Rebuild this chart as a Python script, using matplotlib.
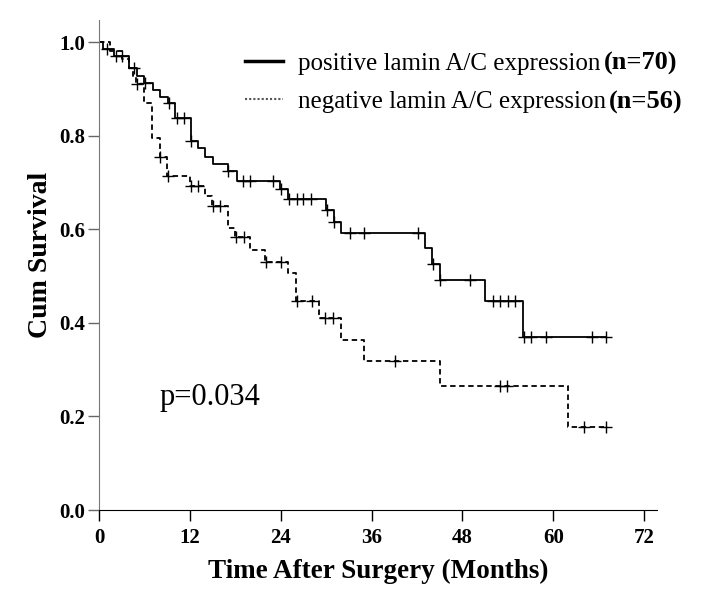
import numpy as np
import matplotlib
matplotlib.use("Agg")
import matplotlib.pyplot as plt
from matplotlib.lines import Line2D

plt.rcParams['font.family'] = ['Liberation Serif', 'DejaVu Serif']

# Kaplan-Meier steps (months, cumulative survival)
pos_time = [0, 0.5, 2.0, 4.0, 5.0, 6.0, 7.1, 8.1, 9.1, 10.0, 12.1, 13.1, 14.0, 15.1,
            17.0, 18.2, 23.9, 24.9, 30.0, 31.0, 32.0, 43.1, 44.0, 45.0, 51.0, 56.0]
pos_surv = [1.0, 0.986, 0.971, 0.945, 0.929, 0.913, 0.898, 0.884, 0.870, 0.838, 0.790,
            0.774, 0.756, 0.740, 0.724, 0.704, 0.686, 0.665, 0.642, 0.617, 0.592, 0.560,
            0.526, 0.492, 0.447, 0.371]
pos_end = 67.0
pos_censor = [1.0, 2.2, 3.0, 4.6, 6.1, 9.2, 10.3, 11.2, 12.2, 17.1, 19.0, 19.9, 23.0,
              24.0, 25.1, 26.1, 27.0, 28.0, 30.1, 31.1, 33.1, 35.0, 42.1, 44.1, 45.1,
              49.0, 52.0, 53.0, 54.0, 55.0, 56.1, 57.0, 59.0, 65.1, 67.0]

neg_time = [0, 1.5, 3.0, 4.0, 4.5, 4.9, 6.0, 7.0, 8.0, 9.0, 12.0, 14.0, 14.9, 17.1,
            18.0, 19.9, 21.9, 25.0, 26.0, 29.0, 32.0, 35.0, 45.0, 62.0]
neg_surv = [1.0, 0.982, 0.964, 0.946, 0.929, 0.911, 0.871, 0.795, 0.754, 0.714, 0.693,
            0.672, 0.650, 0.604, 0.583, 0.556, 0.531, 0.506, 0.448, 0.410, 0.364, 0.319,
            0.265, 0.177]
neg_end = 67.0
neg_censor = [5.0, 8.0, 9.1, 12.1, 13.1, 15.0, 16.0, 18.1, 19.1, 22.0, 24.0, 26.1, 28.1,
              29.9, 30.9, 39.1, 53.0, 53.9, 64.0, 67.0]

labels = ["positive lamin A/C expression", "negative lamin A/C expression"]
n_labels = ["(n=70)", "(n=56)"]
xticks = [0, 12, 24, 36, 48, 60, 72]
yticks = [0.0, 0.2, 0.4, 0.6, 0.8, 1.0]


def km_curve(ax, t, s, t_end, cens, **kw):
    tt = list(t) + [t_end]
    ss = list(s) + [s[-1]]
    ax.step(tt, ss, where='post', color='black', **kw)
    idx = np.searchsorted(np.array(t), np.array(cens), side='right') - 1
    ax.plot(cens, np.array(s)[idx], linestyle='none', marker='+', color='black',
            markersize=9, markeredgewidth=1.0)


fig = plt.figure(figsize=(7.17, 5.92), dpi=100)
ax = fig.add_axes([99 / 717, 82 / 592, 558 / 717, 490 / 592])

km_curve(ax, pos_time, pos_surv, pos_end, pos_censor, linewidth=1.3)
km_curve(ax, neg_time, neg_surv, neg_end, neg_censor, linewidth=1.3,
         linestyle=(0, (3, 2)))

ax.set_xlim(0, 73.7)
ax.set_ylim(0, 1.048)
ax.set_xticks(xticks)
ax.set_yticks(yticks)
ax.set_yticklabels([f"{v:.1f}" for v in yticks])
for lab in ax.get_xticklabels() + ax.get_yticklabels():
    lab.set_fontweight('bold')
    lab.set_fontsize(15)
ax.tick_params(axis='both', direction='out', length=8, width=1.0, pad=2)
ax.tick_params(axis='x', pad=5)
ax.tick_params(axis='y', colors='#666666', labelcolor='black')

ax.spines['top'].set_visible(False)
ax.spines['right'].set_visible(False)
ax.spines['left'].set_color('#777777')
ax.spines['bottom'].set_color('black')

ax.set_xlabel("Time After Surgery (Months)", fontsize=19.5, fontweight='bold', labelpad=8)
ax.set_ylabel("Cum Survival", fontsize=20, fontweight='bold')
ax.yaxis.set_label_coords(-0.082, 0.52)

ax.text(8.0, 0.24, "p=0.034", fontsize=22, va='center', ha='left')

handles = [Line2D([], [], color='black', linewidth=2.5),
           Line2D([], [], color='#555555', linewidth=1.5, linestyle=(0, (1, 1)))]
leg = ax.legend(handles, labels, loc='upper left', bbox_to_anchor=(0.262, 0.934),
                frameon=False, fontsize=18, handlelength=1.52, handletextpad=0.6,
                labelspacing=0.63, borderpad=0, borderaxespad=0)

fig.canvas.draw()
inv = ax.transAxes.inverted()
for txt, nl in zip(leg.get_texts(), n_labels):
    bb = txt.get_window_extent()
    x, y = inv.transform((bb.x1 + 3, (bb.y0 + bb.y1) / 2))
    ax.text(x, y, nl, transform=ax.transAxes, fontsize=19, fontweight='bold',
            va='center', ha='left')

fig.savefig("out.png", dpi=100)
